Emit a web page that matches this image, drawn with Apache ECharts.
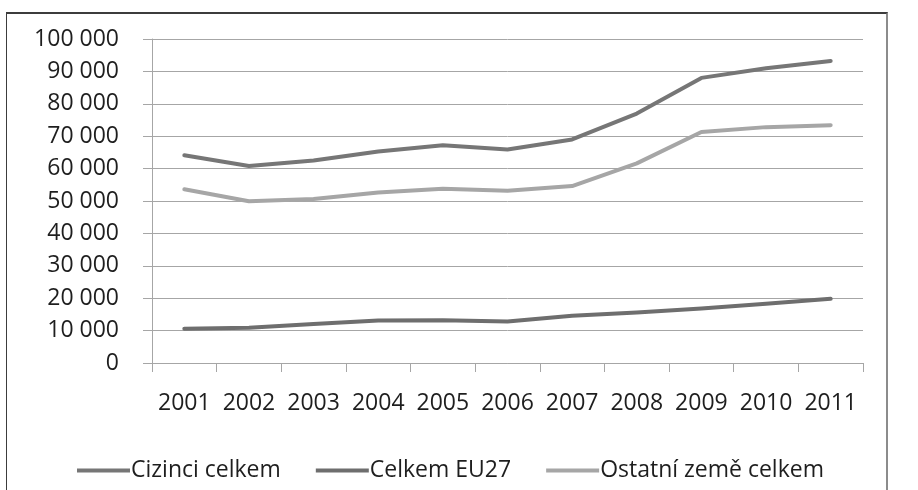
<!DOCTYPE html>
<html>
<head>
<meta charset="utf-8">
<script src="https://cdn.jsdelivr.net/npm/echarts@6/dist/echarts.min.js"></script>
<style>
  html, body { margin: 0; padding: 0; background: #ffffff; }
  #wrap { position: relative; width: 918px; height: 490px; overflow: hidden; }
  #frame {
    position: absolute; left: 6px; top: 12px; width: 882px; height: 520px;
    border-top: 2px solid #3c3c3c; border-left: 1px solid #3c3c3c; border-right: 2px solid #8c8c8c;
    box-sizing: border-box;
  }
  #chart { position: absolute; left: 0; top: 0; width: 918px; height: 490px; }
</style>
</head>
<body>
<div id="wrap">
  <div id="frame"></div>
  <div id="chart"></div>
</div>
<script>
const years = ['2001', '2002', '2003', '2004', '2005', '2006', '2007', '2008', '2009', '2010', '2011']
const cizinciCelkem = [64100, 60800, 62500, 65300, 67200, 65900, 69000, 77000, 88000, 91000, 93200]
const celkemEU27 = [10600, 10900, 12000, 13100, 13200, 12800, 14600, 15600, 16800, 18300, 19800]
const ostatniZeme = [53600, 49900, 50600, 52600, 53800, 53200, 54600, 61600, 71300, 72800, 73400]
const yTicks = [0, 10000, 20000, 30000, 40000, 50000, 60000, 70000, 80000, 90000, 100000]

const FONT = '"Open Sans", "Noto Sans", sans-serif'
const TEXT = '#1e1e1e'
const GRID = '#a6a6a6'

const fmt = v => String(v).replace(/\B(?=(\d{3})+(?!\d))/g, ' ')

const chart = echarts.init(document.getElementById('chart'), null, { renderer: 'canvas' })

chart.setOption({
  animation: false,
  backgroundColor: 'transparent',
  textStyle: { fontFamily: FONT, color: TEXT },
  grid: { left: 152, right: 55, top: 39, bottom: 127, containLabel: false },
  legend: {
    left: 72,
    top: 454,
    icon: 'rect',
    itemWidth: 53,
    itemHeight: 4,
    itemGap: 35,
    textStyle: { fontFamily: FONT, fontSize: 23, color: TEXT, padding: [0, 0, 0, -4] },
    data: ['Cizinci celkem', 'Celkem EU27', 'Ostatní země celkem']
  },
  xAxis: {
    type: 'category',
    data: years,
    boundaryGap: true,
    axisLine: { lineStyle: { color: GRID, width: 1 } },
    axisTick: { show: true, length: 9, lineStyle: { color: GRID } },
    axisLabel: { color: TEXT, fontFamily: FONT, fontSize: 23, margin: 29, interval: 0 }
  },
  yAxis: {
    type: 'value',
    min: yTicks[0],
    max: yTicks[yTicks.length - 1],
    interval: yTicks[1] - yTicks[0],
    axisLine: { show: true, lineStyle: { color: GRID, width: 1 } },
    axisTick: { show: true, length: 9, lineStyle: { color: GRID } },
    axisLabel: { color: TEXT, fontFamily: FONT, fontSize: 23, margin: 33, formatter: fmt },
    splitLine: { show: true, lineStyle: { color: GRID, width: 1 } }
  },
  series: [
    { name: 'Cizinci celkem', type: 'line', data: cizinciCelkem, symbol: 'none', color: '#767676', lineStyle: { width: 4, cap: 'round', join: 'round' } },
    { name: 'Celkem EU27', type: 'line', data: celkemEU27, symbol: 'none', color: '#6e6e6e', lineStyle: { width: 4, cap: 'round', join: 'round' } },
    { name: 'Ostatní země celkem', type: 'line', data: ostatniZeme, symbol: 'none', color: '#a6a6a6', lineStyle: { width: 4, cap: 'round', join: 'round' } }
  ]
})
</script>
</body>
</html>
